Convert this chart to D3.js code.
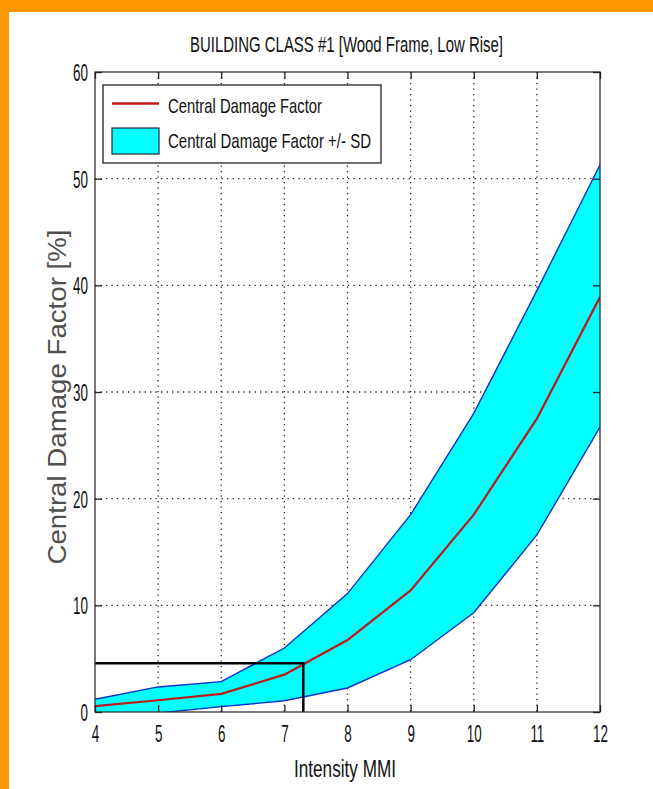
<!DOCTYPE html>
<html><head><meta charset="utf-8">
<script src="https://cdn.jsdelivr.net/npm/d3@7"></script>
<style>
html,body{margin:0;padding:0;background:#fff;}
svg{display:block;}
</style></head>
<body>
<script>
// ---- data ----
const mmi = [4, 5, 6, 7, 8, 9, 10, 11, 12];
const central = [0.55, 1.1, 1.7, 3.5, 6.75, 11.4, 18.5, 27.5, 38.9];
const upperSD = [1.2, 2.35, 2.85, 6.0, 11.1, 18.5, 28.0, 39.5, 51.3];
const lowerSD = [-0.5, -0.1, 0.5, 1.05, 2.25, 4.9, 9.3, 16.6, 26.7];
const xTicks = [4, 5, 6, 7, 8, 9, 10, 11, 12];
const yTicks = [0, 10, 20, 30, 40, 50, 60];
const markerX = [4, 7.3];
const markerY = [0, 4.56];
const legendLabels = ["Central Damage Factor", "Central Damage Factor +/- SD"];
const titleText = "BUILDING CLASS #1 [Wood Frame, Low Rise]";
const xLabel = "Intensity MMI";
const yLabel = "Central Damage Factor [%]";

const W = 653, H = 789;
const L = 95, R = 600, T = 72, B = 712;
const sans = "'Liberation Sans', Arial, sans-serif";
const SX = 0.56; // horizontal squeeze for condensed MATLAB-like labels

const svg = d3.select("body").append("svg").attr("width", W).attr("height", H);
svg.append("rect").attr("width", W).attr("height", H).attr("fill", "#fff");
// orange frame
svg.append("rect").attr("x", 0).attr("y", 0).attr("width", W).attr("height", 12).attr("fill", "#FF9900");
svg.append("rect").attr("x", 0).attr("y", 0).attr("width", 9).attr("height", H).attr("fill", "#FF9900");

const x = d3.scaleLinear().domain([4, 12]).range([L, R]);
const y = d3.scaleLinear().domain([0, 60]).range([B, T]);

svg.append("defs").append("clipPath").attr("id", "clip")
  .append("rect").attr("x", L).attr("y", T).attr("width", R - L).attr("height", B - T);

// grid
const grid = svg.append("g").attr("stroke", "#222").attr("stroke-width", 1.3).attr("stroke-dasharray", "1.3,4.2");
grid.selectAll(".gx").data(xTicks.slice(1, -1)).join("line")
  .attr("x1", d => x(d)).attr("x2", d => x(d)).attr("y1", T).attr("y2", B);
grid.selectAll(".gy").data(yTicks.slice(1, -1)).join("line")
  .attr("x1", L).attr("x2", R).attr("y1", d => y(d)).attr("y2", d => y(d));

const data = mmi.map((m, i) => ({m, c: central[i], u: upperSD[i], l: lowerSD[i]}));
const plot = svg.append("g").attr("clip-path", "url(#clip)");

plot.append("path").datum(data)
  .attr("d", d3.area().x(d => x(d.m)).y0(d => y(d.l)).y1(d => y(d.u)))
  .attr("fill", "#00FFFF").attr("stroke", "none");
plot.append("path").datum(data)
  .attr("d", d3.line().x(d => x(d.m)).y(d => y(d.u)))
  .attr("fill", "none").attr("stroke", "#0A2FC8").attr("stroke-width", 1.4);
plot.append("path").datum(data)
  .attr("d", d3.line().x(d => x(d.m)).y(d => y(d.l)))
  .attr("fill", "none").attr("stroke", "#0A2FC8").attr("stroke-width", 1.4);
plot.append("path").datum(data)
  .attr("d", d3.line().x(d => x(d.m)).y(d => y(d.c)))
  .attr("fill", "none").attr("stroke", "#C01818").attr("stroke-width", 2.2);

// marker box
svg.append("path")
  .attr("d", `M${x(markerX[0])},${y(markerY[1])}H${x(markerX[1])}V${y(markerY[0])}`)
  .attr("fill", "none").attr("stroke", "#000").attr("stroke-width", 2.5);

// axes box
svg.append("rect").attr("x", L).attr("y", T).attr("width", R - L).attr("height", B - T)
  .attr("fill", "none").attr("stroke", "#333").attr("stroke-width", 1.3);

// axes with inward ticks
const fs = 24;
const xb = svg.append("g").attr("transform", `translate(0,${B})`)
  .call(d3.axisBottom(x).tickValues(xTicks).tickSizeInner(-7).tickSizeOuter(0).tickPadding(13));
const xt = svg.append("g").attr("transform", `translate(0,${T})`)
  .call(d3.axisTop(x).tickValues(xTicks).tickSizeInner(-7).tickSizeOuter(0).tickFormat(""));
const yl = svg.append("g").attr("transform", `translate(${L},0)`)
  .call(d3.axisLeft(y).tickValues(yTicks).tickSizeInner(-7).tickSizeOuter(0).tickPadding(7));
const yr = svg.append("g").attr("transform", `translate(${R},0)`)
  .call(d3.axisRight(y).tickValues(yTicks).tickSizeInner(-7).tickSizeOuter(0).tickFormat(""));
[xb, xt, yl, yr].forEach(g => {
  g.select(".domain").remove();
  g.selectAll(".tick line").attr("stroke", "#222").attr("stroke-width", 1.3);
  g.selectAll("text").attr("font-family", sans).attr("font-size", fs).attr("fill", "#111");
});
xb.selectAll(".tick text").attr("transform", `scale(${SX},1)`);
yl.selectAll(".tick text").attr("x", -7 / SX).attr("dy", "0.36em").attr("transform", `scale(${SX},1)`);

// title & labels
svg.append("text").attr("x", 190).attr("y", 52)
  .attr("font-family", sans).attr("font-size", 22).attr("fill", "#111")
  .attr("textLength", 313).attr("lengthAdjust", "spacingAndGlyphs").text(titleText);
svg.append("text").attr("x", 294).attr("y", 777)
  .attr("font-family", sans).attr("font-size", 23).attr("fill", "#111")
  .attr("textLength", 102).attr("lengthAdjust", "spacingAndGlyphs").text(xLabel);
svg.append("text").attr("transform", `translate(66,397) rotate(-90)`)
  .attr("text-anchor", "middle").attr("font-family", sans)
  .attr("font-size", 25).attr("fill", "#505050")
  .attr("textLength", 335).attr("lengthAdjust", "spacingAndGlyphs").text(yLabel);

// legend
const lg = svg.append("g");
lg.append("rect").attr("x", 103).attr("y", 85).attr("width", 278).attr("height", 78)
  .attr("fill", "#fff").attr("stroke", "#222").attr("stroke-width", 1.3);
lg.append("line").attr("x1", 112).attr("x2", 159).attr("y1", 103.5).attr("y2", 103.5)
  .attr("stroke", "#C01818").attr("stroke-width", 2.5);
lg.append("rect").attr("x", 112).attr("y", 128).attr("width", 47).attr("height", 26)
  .attr("fill", "#00FFFF").attr("stroke", "#1a2a3a").attr("stroke-width", 1.2);
const legLen = [154, 203];
lg.selectAll(".lt").data(legendLabels).join("text")
  .attr("x", 168).attr("y", (d, i) => i === 0 ? 113 : 148)
  .attr("font-family", sans).attr("font-size", 21).attr("fill", "#111")
  .attr("textLength", (d, i) => legLen[i]).attr("lengthAdjust", "spacingAndGlyphs")
  .text(d => d);
</script>
</body></html>
